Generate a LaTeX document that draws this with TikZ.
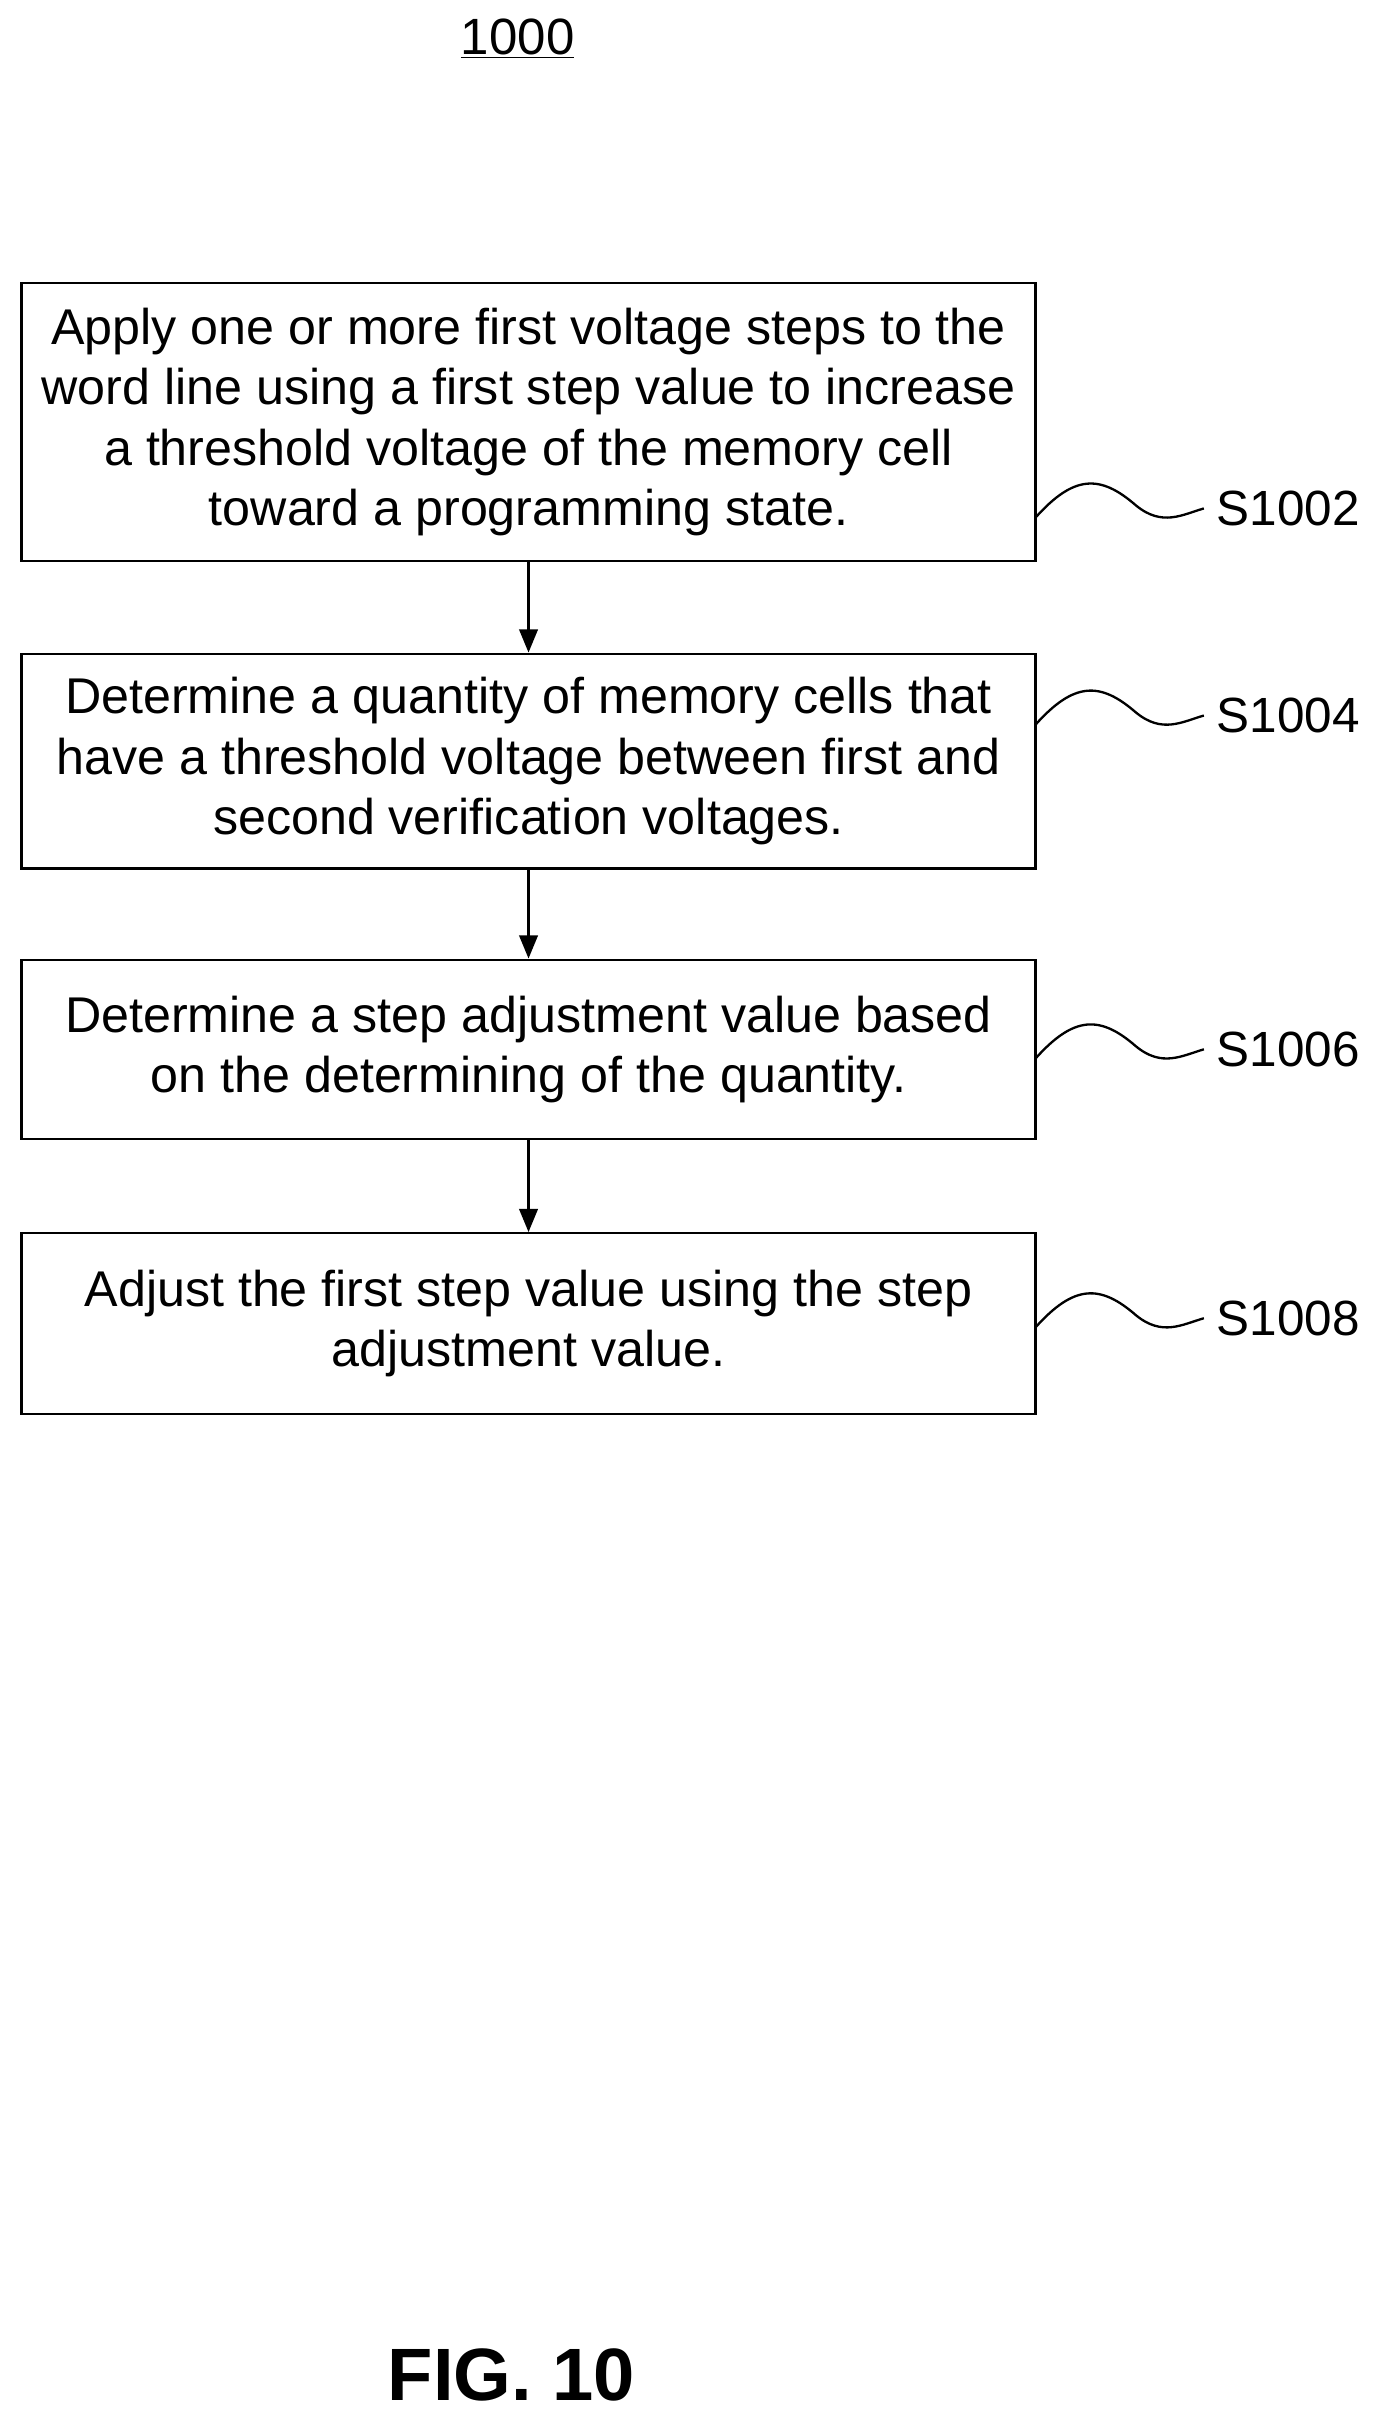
\documentclass[tikz,border=0pt]{standalone}
\usepackage{fontspec}
\setmainfont{Liberation Sans}
\usetikzlibrary{arrows.meta}
\begin{document}
\begin{tikzpicture}[x=1pt,y=-1pt,
  box/.style={draw,line width=1.5pt,minimum width=656pt,align=center,font=\fontsize{32.5}{39}\selectfont,inner sep=0pt},
  lab/.style={font=\fontsize{32}{36}\selectfont,anchor=west,inner sep=0pt},
  arr/.style={line width=1.5pt,-{Triangle[length=15pt,width=12pt]}},
  wav/.style={line width=1.5pt}]
\useasboundingbox (0,0) rectangle (889,1564);
\node (t) at (335,25) {\fontsize{33}{36}\selectfont\underline{1000}};
\node[box,minimum height=180pt] (b1) at (342,273) {Apply one or more first voltage steps to the\\word line using a first step value to increase\\a threshold voltage of the memory cell\\toward a programming state.};
\node[box,minimum height=139pt] (b2) at (342,492.5) {Determine a quantity of memory cells that\\have a threshold voltage between first and\\second verification voltages.};
\node[box,minimum height=116pt] (b3) at (342,679) {Determine a step adjustment value based\\on the determining of the quantity.};
\node[box,minimum height=117pt] (b4) at (342,856.5) {Adjust the first step value using the step\\adjustment value.};
\draw[arr] (b1.south) -- (b2.north);
\draw[arr] (b2.south) -- (b3.north);
\draw[arr] (b3.south) -- (b4.north);
\foreach \b/\n/\y in {b1/S1002/329, b2/S1004/463, b3/S1006/679, b4/S1008/853}{
  \node[lab] (l\n) at (787,\y) {\n};
  \coordinate (c\n) at (670,\y+6);
  \draw[wav] (c\n) .. controls (695,\y-22) and (712,\y-22) .. (735,\y-2) .. controls (752,\y+12) and (765,\y+4) .. ([xshift=-8pt]l\n.west);
}
\node[font=\bfseries\fontsize{48}{52}\selectfont] (f) at (331,1537) {FIG. 10};
\end{tikzpicture}
\end{document}
